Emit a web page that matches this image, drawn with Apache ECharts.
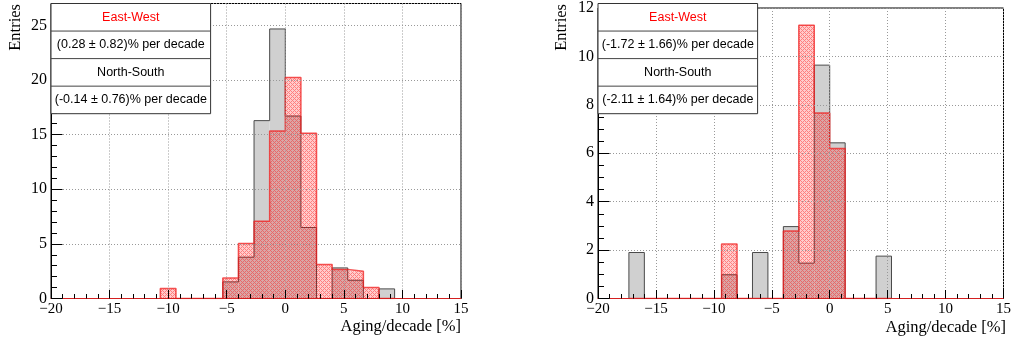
<!DOCTYPE html>
<html><head><meta charset="utf-8">
<script src="https://cdn.jsdelivr.net/npm/echarts@6/dist/echarts.min.js"></script>
<style>html,body{margin:0;padding:0;background:#fff}#c{width:1014px;height:343px}</style>
</head><body><div id="c"></div>
<script>
// ---- data ----
const binWidth = 4 / 3;
const leftBinLo = [-10.667, -5.333, -4, -2.667, -1.333, 0, 1.333, 2.667, 4, 5.333, 6.667, 8];
const leftEastWest = [0.91, 1.88, 5.03, 7.07, 15.33, 20.22, 15.12, 3.11, 2.65, 2.5, 1.0, 0];
const leftNorthSouth = [0, 1.52, 3.78, 16.28, 24.67, 16.7, 6.5, 0, 2.8, 1.67, 0, 0.88];
const rightBinLo = [-17.333, -9.333, -6.667, -4, -2.667, -1.333, 0, 4];
const rightEastWest = [0, 2.25, 0, 2.79, 11.29, 7.66, 6.2, 0];
const rightNorthSouth = [1.9, 0.98, 1.9, 2.97, 1.46, 9.64, 6.43, 1.75];
const legendLeft = ['East-West', '(0.28 \u00b1 0.82)% per decade', 'North-South', '(-0.14 \u00b1 0.76)% per decade'];
const legendRight = ['East-West', '(-1.72 \u00b1 1.66)% per decade', 'North-South', '(-2.11 \u00b1 1.64)% per decade'];
const xMin = -20, xMax = 15, xInterval = 5;
const leftYMax = 27, leftYInterval = 5;
const rightYMax = 12, rightYInterval = 2;
const xTitle = 'Aging/decade [%]';
const yTitle = 'Entries';

// ---- helpers ----
function barData(lo, h) {
  const out = [];
  for (let i = 0; i < lo.length; i++) if (h[i] > 0) out.push([lo[i], lo[i] + binWidth, h[i]]);
  return out;
}
function outlineData(lo, h) {
  const pts = [[lo[0], 0]];
  for (let i = 0; i < lo.length; i++) {
    const hi = lo[i] + binWidth;
    pts.push([lo[i], h[i]], [hi, h[i]]);
    if (i < lo.length - 1 && Math.abs(lo[i + 1] - hi) > 0.01) pts.push([hi, 0], [lo[i + 1], 0]);
  }
  pts.push([lo[lo.length - 1] + binWidth, 0]);
  return pts;
}
const pc = document.createElement('canvas'); pc.width = 4; pc.height = 4;
(function () {
  const ctx = pc.getContext('2d');
  const img = ctx.createImageData(4, 4);
  for (let y = 0; y < 4; y++) for (let x = 0; x < 4; x++) {
    const on = ((x + y) % 4 === 0) || ((x - y + 4) % 4 === 0);
    const k = (y * 4 + x) * 4;
    img.data[k] = 255; img.data[k + 1] = 0; img.data[k + 2] = 0;
    img.data[k + 3] = Math.round((on ? 0.5 : 0.2) * 255);
  }
  ctx.putImageData(img, 0, 0);
})();
const redPattern = { image: pc, repeat: 'repeat' };

function rectRender(fill) {
  return function (params, api) {
    const a = api.coord([api.value(0), api.value(2)]);
    const b = api.coord([api.value(1), 0]);
    return { type: 'rect', shape: { x: a[0], y: a[1], width: b[0] - a[0], height: b[1] - a[1] }, style: { fill: fill } };
  };
}
const minus = v => String(v).replace('-', '\u2212');
const serif = '"Liberation Serif", "Times New Roman", serif';
const sans = '"Liberation Sans", Arial, sans-serif';

function xAxisCfg(gi) {
  return {
    type: 'value', gridIndex: gi, min: xMin, max: xMax, interval: xInterval, z: 10,
    axisLine: { show: true, onZero: false, lineStyle: { color: '#d42020', width: 1.2 } },
    axisTick: { show: true, inside: true, length: 8.5, lineStyle: { color: '#000' } },
    minorTick: { show: true, splitNumber: 5, length: 4.5, lineStyle: { color: '#000' } },
    axisLabel: { margin: 3, color: '#000', fontFamily: serif, fontSize: 15, formatter: minus },
    splitLine: { show: true, lineStyle: { color: '#999', type: [1, 2], width: 1 } }
  };
}
function yAxisCfg(gi, max, interval, minorSplit) {
  return {
    type: 'value', gridIndex: gi, min: 0, max: max, interval: interval, z: 10,
    axisLine: { show: true, onZero: false, lineStyle: { color: '#000', width: 1 } },
    axisTick: { show: true, inside: true, length: 11.5, lineStyle: { color: '#000' } },
    minorTick: { show: true, splitNumber: minorSplit, length: 6, lineStyle: { color: '#000' } },
    axisLabel: { margin: 4, color: '#000', fontFamily: serif, fontSize: 16,
      formatter: v => (Math.abs(v / interval - Math.round(v / interval)) < 1e-6 ? minus(v) : '') },
    splitLine: { show: true, lineStyle: { color: '#999', type: [1, 2], width: 1 } }
  };
}
function seriesFor(gi, lo, ns, ew) {
  return [
    { type: 'custom', xAxisIndex: gi, yAxisIndex: gi, z: 2, clip: true, encode: { x: [0, 1], y: 2 },
      renderItem: rectRender('#d0d0d0'), data: barData(lo, ns), silent: true },
    { type: 'line', xAxisIndex: gi, yAxisIndex: gi, z: 3, symbol: 'none', clip: true, silent: true,
      lineStyle: { color: '#4a4a4a', width: 1 }, data: outlineData(lo, ns) },
    { type: 'custom', xAxisIndex: gi, yAxisIndex: gi, z: 4, clip: true, encode: { x: [0, 1], y: 2 },
      renderItem: rectRender(redPattern), data: barData(lo, ew), silent: true },
    { type: 'line', xAxisIndex: gi, yAxisIndex: gi, z: 5, symbol: 'none', clip: true, silent: true,
      lineStyle: { color: 'rgba(240,30,30,0.75)', width: 1.5 }, data: outlineData(lo, ew) }
  ];
}
function legendBox(x0, texts) {
  const w = 159.6, top = 3.5, rh = 27.55;
  const els = [{ type: 'rect', z: 100, shape: { x: x0, y: top, width: w, height: rh * 4 },
    style: { fill: '#fff', stroke: '#333', lineWidth: 1 } }];
  for (let k = 1; k < 4; k++) els.push({ type: 'line', z: 101,
    shape: { x1: x0, y1: top + rh * k, x2: x0 + w, y2: top + rh * k }, style: { stroke: '#444', lineWidth: 1 } });
  texts.forEach((t, k) => els.push({ type: 'text', z: 102, x: x0 + w / 2, y: top + rh * (k + 0.5),
    style: { text: t, fill: k === 0 ? '#ff0000' : '#000', font: '12.5px ' + sans, textAlign: 'center', textVerticalAlign: 'middle' } }));
  return els;
}
function titles(xRight, xTitleY, yTitleX) {
  return [
    { type: 'text', z: 102, x: xRight, y: xTitleY,
      style: { text: xTitle, fill: '#000', font: '16.5px ' + serif, textAlign: 'right', textVerticalAlign: 'middle' } },
    { type: 'text', z: 102, x: yTitleX, y: 4, rotation: Math.PI / 2,
      style: { text: yTitle, fill: '#000', font: '16.5px ' + serif, textAlign: 'right', textVerticalAlign: 'middle' } }
  ];
}

const chart = echarts.init(document.getElementById('c'), null, { renderer: 'canvas' });
chart.setOption({
  animation: false,
  backgroundColor: '#fff',
  grid: [
    { left: 51, top: 3.5, width: 410, height: 295, show: true, borderColor: '#000', borderWidth: 1, backgroundColor: 'transparent' },
    { left: 598, top: 3.5, width: 409, height: 295, show: true, borderColor: '#000', borderWidth: 1, backgroundColor: 'transparent' }
  ],
  xAxis: [xAxisCfg(0), xAxisCfg(1)],
  yAxis: [yAxisCfg(0, leftYMax, leftYInterval, 5), yAxisCfg(1, rightYMax, rightYInterval, 4)],
  series: [].concat(seriesFor(0, leftBinLo, leftNorthSouth, leftEastWest),
                    seriesFor(1, rightBinLo, rightNorthSouth, rightEastWest)),
  graphic: { elements: [].concat(legendBox(51, legendLeft), legendBox(598, legendRight),
                                  titles(461, 326.5, 15.5), titles(1006, 327.5, 561.5)) }
});
</script></body></html>
